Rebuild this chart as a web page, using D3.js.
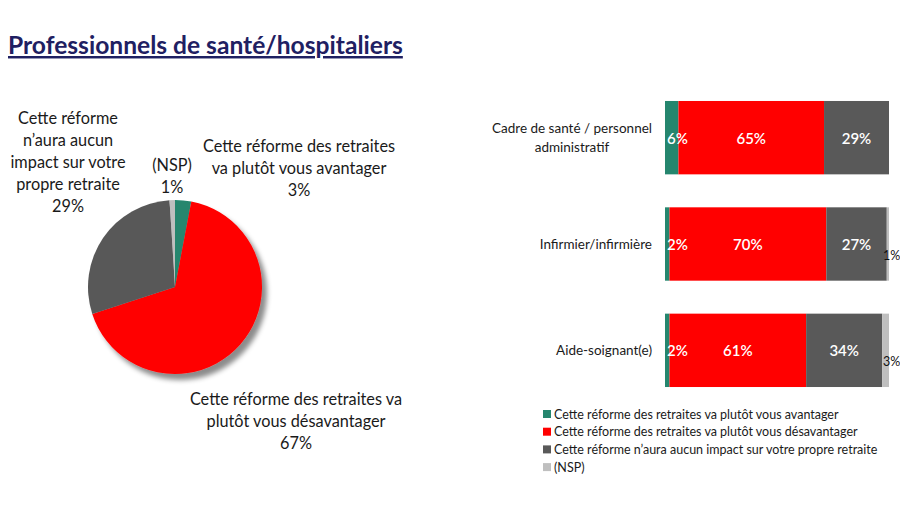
<!DOCTYPE html>
<html><head><meta charset="utf-8">
<script src="https://cdn.jsdelivr.net/npm/d3@7"></script>
<style>
body{margin:0;background:#fff;}
svg{display:block;font-family:Lato,"Open Sans",sans-serif;}
</style></head>
<body>
<svg id="c" width="900" height="506"></svg>
<script>
const title = "Professionnels de santé/hospitaliers";
const seriesNames = [
  "Cette réforme des retraites va plutôt vous avantager",
  "Cette réforme des retraites va plutôt vous désavantager",
  "Cette réforme n’aura aucun impact sur votre propre retraite",
  "(NSP)"
];
const colors = ["#25866E", "#FF0000", "#595959", "#BFBFBF"];
// Pie (overall)
const pieValues = [3, 67, 29, 1];
const pieLabels = [
  ["Cette réforme des retraites", "va plutôt vous avantager", "3%"],
  ["Cette réforme des retraites va", "plutôt vous désavantager", "67%"],
  ["Cette réforme", "n’aura aucun", "impact sur votre", "propre retraite", "29%"],
  ["(NSP)", "1%"]
];
// Bars
const categories = [["Cadre de santé / personnel", "administratif"], ["Infirmier/infirmière"], ["Aide-soignant(e)"]];
const avantager = [6, 2, 2];
const desavantager = [65, 70, 61];
const aucunImpact = [29, 27, 34];
const nsp = [0, 1, 3];

const svg = d3.select("#c");

// Title
svg.append("text").attr("x", 8).attr("y", 54)
  .attr("font-size", 24.6).attr("font-weight", 700).attr("fill", "#1F2062")
  .attr("text-decoration", "underline").text(title);

// Shadow filter
const defs = svg.append("defs");
const f = defs.append("filter").attr("id", "sh").attr("x", "-20%").attr("y", "-20%").attr("width", "150%").attr("height", "150%");
f.append("feDropShadow").attr("dx", 5).attr("dy", 6).attr("stdDeviation", 2.5).attr("flood-color", "#000").attr("flood-opacity", 0.45);

// Pie
const cx = 175, cy = 287, r = 87;
const pie = d3.pie().sort(null).value(d => d)(pieValues);
const arc = d3.arc().innerRadius(0).outerRadius(r);
const pg = svg.append("g").attr("transform", `translate(${cx},${cy})`);
pg.append("g").attr("filter", "url(#sh)").selectAll("path").data(pie).join("path")
  .attr("d", arc).attr("fill", (d, i) => colors[i]);

// Pie labels: [centerX, firstBaseline]
const pieLabelPos = [[299, 152], [296, 405], [68, 124], [172, 171]];
pieLabels.forEach((lines, i) => {
  const t = svg.append("text").attr("text-anchor", "middle").attr("font-size", 16.3).attr("fill", "#1a1a1a");
  lines.forEach((l, j) => t.append("tspan").attr("x", pieLabelPos[i][0]).attr("y", pieLabelPos[i][1] + j * 22).text(l));
});

// Bars
const x = d3.scaleLinear().domain([0, 100]).range([665, 889]);
const y = d3.scaleBand().domain(d3.range(categories.length)).range([84.5, 403.5]).paddingInner(0.31).paddingOuter(0.155);
const table = categories.map((c, i) => ({i, vals: [avantager[i], desavantager[i], aucunImpact[i], nsp[i]]}));
const stack = d3.stack().keys([0, 1, 2, 3]).value((d, k) => d.vals[k])(table);
const bg = svg.append("g");
stack.forEach((layer, k) => {
  bg.selectAll(null).data(layer).join("rect")
    .attr("x", d => x(d[0])).attr("width", d => x(d[1]) - x(d[0]))
    .attr("y", d => y(d.data.i)).attr("height", y.bandwidth())
    .attr("fill", colors[k]);
});
// Value labels
stack.forEach((layer, k) => {
  layer.forEach(d => {
    const v = d.data.vals[k];
    if (!v) return;
    const yc = y(d.data.i) + y.bandwidth() / 2;
    if (k === 3) {
      svg.append("text").attr("x", x(d[1]) - 6).attr("y", yc + 16)
        .attr("font-size", 12.5).attr("fill", "#111").text(v + "%");
    } else if (k === 0) {
      svg.append("text").attr("x", x(d[0]) + 2).attr("y", yc + 6)
        .attr("font-size", 15).attr("font-weight", 600).attr("fill", "#fff").text(v + "%");
    } else {
      svg.append("text").attr("x", (x(d[0]) + x(d[1])) / 2).attr("y", yc + 6)
        .attr("text-anchor", "middle").attr("font-size", 15).attr("font-weight", 600).attr("fill", "#fff").text(v + "%");
    }
  });
});
// Category labels
categories.forEach((lines, i) => {
  const yc = y(i) + y.bandwidth() / 2;
  const t = svg.append("text").attr("font-size", 13.5).attr("fill", "#1a1a1a").attr("text-anchor", "middle");
  const tmp = lines.map(l => {
    const m = svg.append("text").attr("font-size", 13.5).text(l);
    const w = m.node().getComputedTextLength(); m.remove(); return w;
  });
  const cxl = 652 - d3.max(tmp) / 2;
  const h = 19;
  lines.forEach((l, j) => t.append("tspan").attr("x", cxl)
    .attr("y", yc + 5 + (j - (lines.length - 1) / 2) * h).text(l));
});
// Legend
const lg = svg.append("g");
seriesNames.forEach((s, i) => {
  const ly = 414 + i * 17.7;
  lg.append("rect").attr("x", 543).attr("y", ly - 4).attr("width", 8).attr("height", 8).attr("fill", colors[i]);
  lg.append("text").attr("x", 554).attr("y", ly + 4.5).attr("font-size", 12.5).attr("fill", "#1a1a1a").text(s);
});
</script>
</body></html>
